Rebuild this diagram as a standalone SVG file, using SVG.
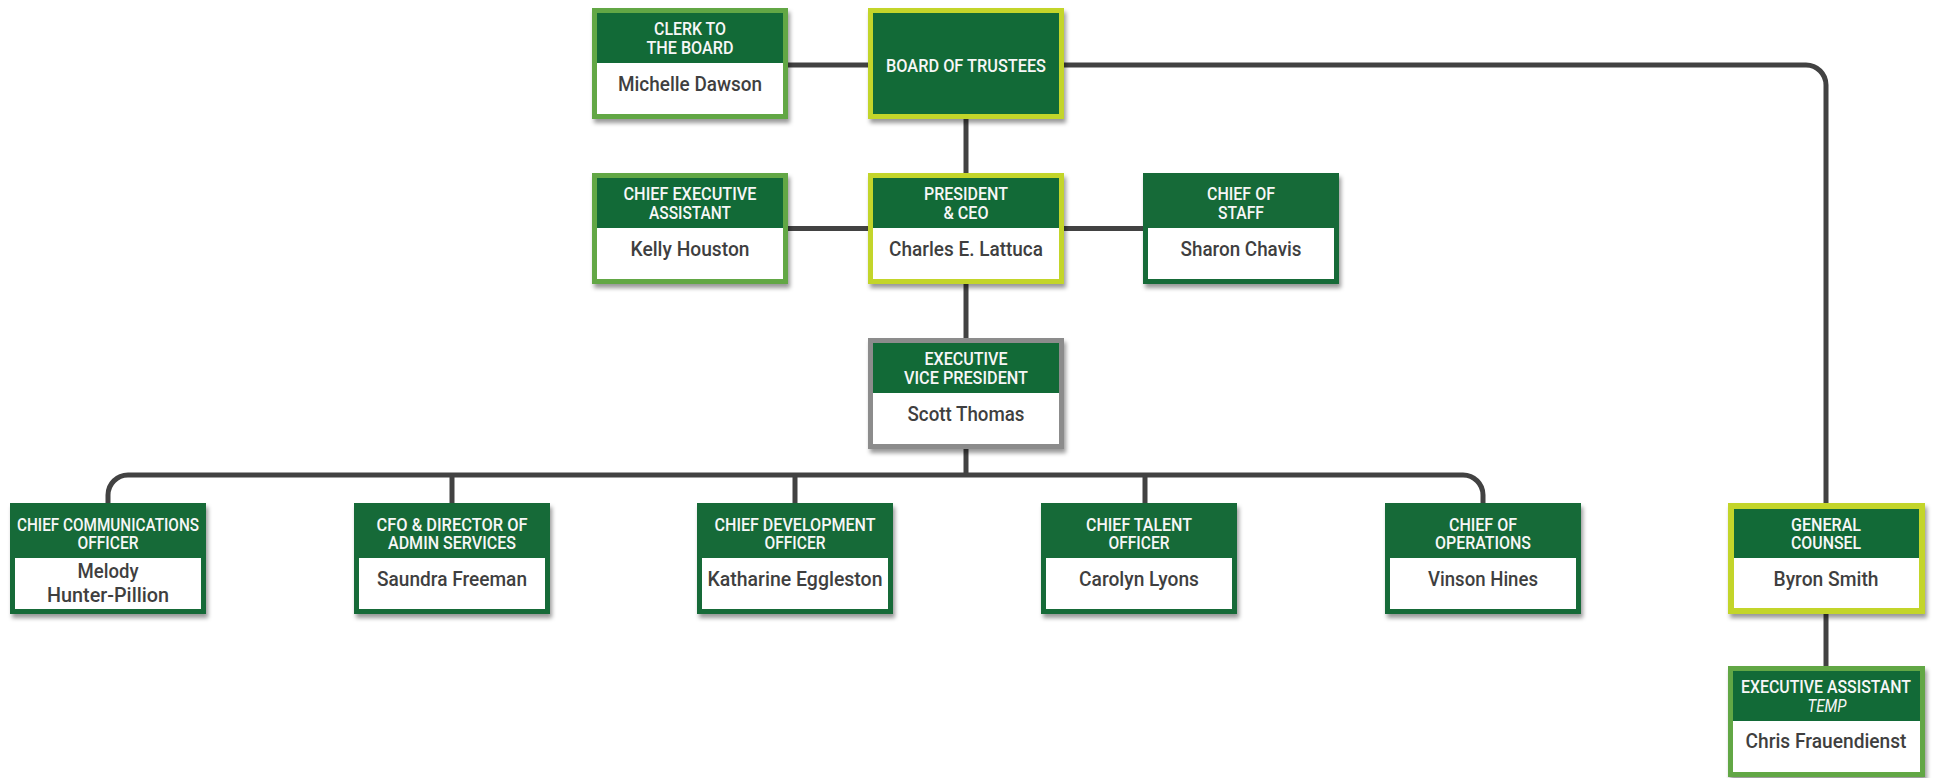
<svg xmlns="http://www.w3.org/2000/svg" width="1933" height="778" viewBox="0 0 1933 778">
<defs>
<filter id="sh" x="-10%" y="-10%" width="125%" height="130%">
<feDropShadow dx="2" dy="4" stdDeviation="2" flood-color="#000" flood-opacity="0.4"/>
</filter>
<style>
.lg{fill:#62a744}
.yg{fill:#c3d52c}
.gy{fill:#8c8c8c}
.dg{fill:#126a37}
.box{filter:url(#sh)}
.hd{fill:#126a37}
.wh{fill:#ffffff}
.t{font-family:"Roboto","Liberation Sans",sans-serif;font-weight:500;font-size:17.5px;fill:#f7f7f7;text-anchor:middle}
.ti{font-family:"Roboto","Liberation Sans",sans-serif;font-style:italic;font-size:17.5px;fill:#f7f7f7;text-anchor:middle}
.n{font-family:"Roboto","Liberation Sans",sans-serif;font-weight:500;font-size:20px;fill:#3f3f3f;text-anchor:middle}
.c{fill:none;stroke:#424242;stroke-width:5}
</style>
</defs>
<g id="connectors">
<path class="c" d="M787,65 H868"/>
<path class="c" d="M1064,65 H1806 A20,20 0 0 1 1826,85 V503"/>
<path class="c" d="M966,119 V173"/>
<path class="c" d="M788,228.5 H868 M1064,228.5 H1143"/>
<path class="c" d="M966,284 V338"/>
<path class="c" d="M966,449 V475"/>
<path class="c" d="M108,503 V495 A20,20 0 0 1 128,475 H1463 A20,20 0 0 1 1483,495 V503"/>
<path class="c" d="M452,475 V503 M795,475 V503 M1145,475 V503"/>
<path class="c" d="M1826,614 V666"/>
</g>
<g id="clerk">
<rect class="box lg" x="592" y="8" width="196" height="111"/>
<rect class="hd" x="597" y="13" width="186" height="50"/>
<rect class="wh" x="597" y="63" width="186" height="51"/>
<text class="t" x="690" y="35" textLength="72" lengthAdjust="spacingAndGlyphs">CLERK TO</text>
<text class="t" x="690" y="54" textLength="87" lengthAdjust="spacingAndGlyphs">THE BOARD</text>
<text class="n" x="690" y="91" textLength="144" lengthAdjust="spacingAndGlyphs">Michelle Dawson</text>
</g>
<g id="board">
<rect class="box yg" x="868" y="8" width="196" height="111"/>
<rect class="hd" x="873" y="13" width="186" height="101"/>
<text class="t" x="966" y="72" textLength="160" lengthAdjust="spacingAndGlyphs">BOARD OF TRUSTEES</text>
</g>
<g id="cea">
<rect class="box lg" x="592" y="173" width="196" height="111"/>
<rect class="hd" x="597" y="178" width="186" height="50"/>
<rect class="wh" x="597" y="228" width="186" height="51"/>
<text class="t" x="690" y="200" textLength="133" lengthAdjust="spacingAndGlyphs">CHIEF EXECUTIVE</text>
<text class="t" x="690" y="219" textLength="82" lengthAdjust="spacingAndGlyphs">ASSISTANT</text>
<text class="n" x="690" y="256" textLength="119" lengthAdjust="spacingAndGlyphs">Kelly Houston</text>
</g>
<g id="president">
<rect class="box yg" x="868" y="173" width="196" height="111"/>
<rect class="hd" x="873" y="178" width="186" height="50"/>
<rect class="wh" x="873" y="228" width="186" height="51"/>
<text class="t" x="966" y="200" textLength="84" lengthAdjust="spacingAndGlyphs">PRESIDENT</text>
<text class="t" x="966" y="219" textLength="45" lengthAdjust="spacingAndGlyphs">&amp; CEO</text>
<text class="n" x="966" y="256" textLength="154" lengthAdjust="spacingAndGlyphs">Charles E. Lattuca</text>
</g>
<g id="cos">
<rect class="box dg" x="1143" y="173" width="196" height="111"/>
<rect class="wh" x="1148" y="228" width="186" height="51"/>
<text class="t" x="1241" y="200" textLength="68" lengthAdjust="spacingAndGlyphs">CHIEF OF</text>
<text class="t" x="1241" y="219" textLength="46" lengthAdjust="spacingAndGlyphs">STAFF</text>
<text class="n" x="1241" y="256" textLength="121" lengthAdjust="spacingAndGlyphs">Sharon Chavis</text>
</g>
<g id="evp">
<rect class="box gy" x="868" y="338" width="196" height="111"/>
<rect class="hd" x="873" y="343" width="186" height="50"/>
<rect class="wh" x="873" y="393" width="186" height="51"/>
<text class="t" x="966" y="365" textLength="83" lengthAdjust="spacingAndGlyphs">EXECUTIVE</text>
<text class="t" x="966" y="384" textLength="124" lengthAdjust="spacingAndGlyphs">VICE PRESIDENT</text>
<text class="n" x="966" y="421" textLength="117" lengthAdjust="spacingAndGlyphs">Scott Thomas</text>
</g>
<g id="cco">
<rect class="box dg" x="10" y="503" width="196" height="111"/>
<rect class="wh" x="15" y="558" width="186" height="51"/>
<text class="t" x="108" y="531" textLength="182" lengthAdjust="spacingAndGlyphs">CHIEF COMMUNICATIONS</text>
<text class="t" x="108" y="549" textLength="61" lengthAdjust="spacingAndGlyphs">OFFICER</text>
<text class="n" x="108" y="578" textLength="61" lengthAdjust="spacingAndGlyphs">Melody</text>
<text class="n" x="108" y="602" textLength="122" lengthAdjust="spacingAndGlyphs">Hunter-Pillion</text>
</g>
<g id="cfo">
<rect class="box dg" x="354" y="503" width="196" height="111"/>
<rect class="wh" x="359" y="558" width="186" height="51"/>
<text class="t" x="452" y="531" textLength="151" lengthAdjust="spacingAndGlyphs">CFO &amp; DIRECTOR OF</text>
<text class="t" x="452" y="549" textLength="128" lengthAdjust="spacingAndGlyphs">ADMIN SERVICES</text>
<text class="n" x="452" y="586" textLength="150" lengthAdjust="spacingAndGlyphs">Saundra Freeman</text>
</g>
<g id="cdo">
<rect class="box dg" x="697" y="503" width="196" height="111"/>
<rect class="wh" x="702" y="558" width="186" height="51"/>
<text class="t" x="795" y="531" textLength="161" lengthAdjust="spacingAndGlyphs">CHIEF DEVELOPMENT</text>
<text class="t" x="795" y="549" textLength="61" lengthAdjust="spacingAndGlyphs">OFFICER</text>
<text class="n" x="795" y="586" textLength="175" lengthAdjust="spacingAndGlyphs">Katharine Eggleston</text>
</g>
<g id="cto">
<rect class="box dg" x="1041" y="503" width="196" height="111"/>
<rect class="wh" x="1046" y="558" width="186" height="51"/>
<text class="t" x="1139" y="531" textLength="106" lengthAdjust="spacingAndGlyphs">CHIEF TALENT</text>
<text class="t" x="1139" y="549" textLength="61" lengthAdjust="spacingAndGlyphs">OFFICER</text>
<text class="n" x="1139" y="586" textLength="120" lengthAdjust="spacingAndGlyphs">Carolyn Lyons</text>
</g>
<g id="coo">
<rect class="box dg" x="1385" y="503" width="196" height="111"/>
<rect class="wh" x="1390" y="558" width="186" height="51"/>
<text class="t" x="1483" y="531" textLength="68" lengthAdjust="spacingAndGlyphs">CHIEF OF</text>
<text class="t" x="1483" y="549" textLength="96" lengthAdjust="spacingAndGlyphs">OPERATIONS</text>
<text class="n" x="1483" y="586" textLength="110" lengthAdjust="spacingAndGlyphs">Vinson Hines</text>
</g>
<g id="gc">
<rect class="box yg" x="1728" y="503" width="197" height="111"/>
<rect class="hd" x="1734" y="509" width="185" height="49"/>
<rect class="wh" x="1734" y="558" width="185" height="50"/>
<text class="t" x="1826" y="531" textLength="70" lengthAdjust="spacingAndGlyphs">GENERAL</text>
<text class="t" x="1826" y="549" textLength="70" lengthAdjust="spacingAndGlyphs">COUNSEL</text>
<text class="n" x="1826" y="586" textLength="105" lengthAdjust="spacingAndGlyphs">Byron Smith</text>
</g>
<g id="ea">
<rect class="box lg" x="1728" y="666" width="197" height="111"/>
<rect class="hd" x="1733" y="671" width="187" height="50"/>
<rect class="wh" x="1733" y="721" width="187" height="51"/>
<text class="t" x="1826" y="693" textLength="170" lengthAdjust="spacingAndGlyphs">EXECUTIVE ASSISTANT</text>
<text class="ti" x="1827" y="712" textLength="39" lengthAdjust="spacingAndGlyphs">TEMP</text>
<text class="n" x="1826" y="748" textLength="161" lengthAdjust="spacingAndGlyphs">Chris Frauendienst</text>
</g>
</svg>
